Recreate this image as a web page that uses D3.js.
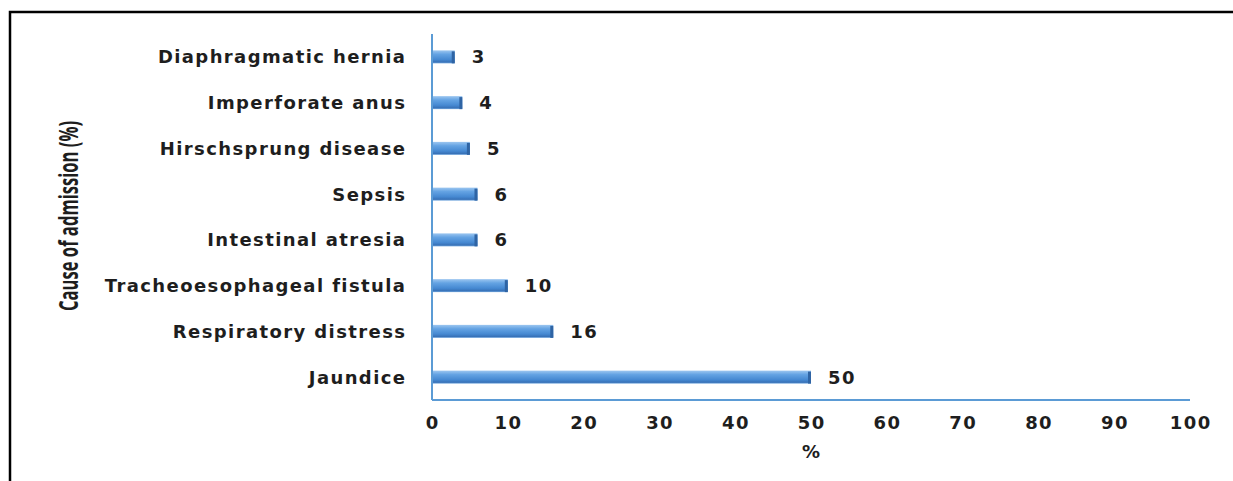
<!DOCTYPE html>
<html>
<head>
<meta charset="utf-8">
<script src="https://cdn.jsdelivr.net/npm/d3@7"></script>
<style>
  body { margin: 0; background: #fff; }
  text { font-family: 'DejaVu Sans', Verdana, sans-serif; }
</style>
</head>
<body>
<div id="chart"></div>
<script>
// chart values
const categories = [
  'Diaphragmatic hernia',
  'Imperforate anus',
  'Hirschsprung disease',
  'Sepsis',
  'Intestinal atresia',
  'Tracheoesophageal fistula',
  'Respiratory distress',
  'Jaundice',
];
const values = [3, 4, 5, 6, 6, 10, 16, 50];
const xTicks = [0, 10, 20, 30, 40, 50, 60, 70, 80, 90, 100];
const xTitle = '%';
const yTitle = 'Cause of admission (%)';

const W = 1233;
const H = 481;
const margin = { top: 34, right: 43, bottom: 81, left: 432 };
const width = W - margin.left - margin.right;
const height = H - margin.top - margin.bottom;
const axisColor = '#5b9bd5';
const textColor = '#1e1e1e';
const fontSize = '18px';
const spacing = 1.4;

const svg = d3.select('#chart')
  .append('svg')
  .attr('width', W)
  .attr('height', H);

// outer frame (only top and left edges visible)
svg.append('rect')
  .attr('x', 10)
  .attr('y', 12)
  .attr('width', W + 20)
  .attr('height', H + 20)
  .attr('fill', 'none')
  .attr('stroke', '#000')
  .attr('stroke-width', 2.5);

const defs = svg.append('defs');
const grad = defs.append('linearGradient')
  .attr('id', 'barGrad')
  .attr('x1', 0).attr('y1', 0)
  .attr('x2', 0).attr('y2', 1);
grad.append('stop').attr('offset', '0%').attr('stop-color', '#9cc6f0');
grad.append('stop').attr('offset', '30%').attr('stop-color', '#64a3e3');
grad.append('stop').attr('offset', '70%').attr('stop-color', '#4689d2');
grad.append('stop').attr('offset', '90%').attr('stop-color', '#3872b8');
grad.append('stop').attr('offset', '100%').attr('stop-color', '#78abe0');

const g = svg.append('g')
  .attr('transform', `translate(${margin.left},${margin.top})`);

const x = d3.scaleLinear()
  .domain([0, 100])
  .range([0, width]);

const y = d3.scaleBand()
  .domain(categories)
  .range([0, height])
  .paddingInner(0.716)
  .paddingOuter(0.358);

// bars
const bars = g.selectAll('.bar')
  .data(categories)
  .enter()
  .append('g')
  .attr('class', 'bar');

bars.append('rect')
  .attr('x', 0)
  .attr('y', (d) => y(d))
  .attr('width', (d, i) => x(values[i]))
  .attr('height', y.bandwidth())
  .attr('fill', 'url(#barGrad)');

// darker end cap to give the bar a 3d look
bars.append('rect')
  .attr('x', (d, i) => x(values[i]) - 3)
  .attr('y', (d) => y(d) + 1)
  .attr('width', 3)
  .attr('height', y.bandwidth() - 1)
  .attr('fill', '#2f64a4');

// value labels
bars.append('text')
  .attr('x', (d, i) => x(values[i]) + 17)
  .attr('y', (d) => y(d) + y.bandwidth() / 2)
  .attr('dy', '0.36em')
  .style('font-size', fontSize)
  .style('font-weight', 'bold')
  .style('letter-spacing', `${spacing}px`)
  .attr('fill', textColor)
  .text((d, i) => values[i]);

// axes lines
g.append('line')
  .attr('x1', 0).attr('x2', 0)
  .attr('y1', 0).attr('y2', height)
  .attr('stroke', axisColor)
  .attr('stroke-width', 2);

g.append('line')
  .attr('x1', 0).attr('x2', width)
  .attr('y1', height).attr('y2', height)
  .attr('stroke', axisColor)
  .attr('stroke-width', 2);

// category labels
g.selectAll('.cat')
  .data(categories)
  .enter()
  .append('text')
  .attr('class', 'cat')
  .attr('x', -27 + spacing)
  .attr('y', (d) => y(d) + y.bandwidth() / 2)
  .attr('dy', '0.36em')
  .attr('text-anchor', 'end')
  .style('font-size', fontSize)
  .style('font-weight', 'bold')
  .style('letter-spacing', `${spacing}px`)
  .attr('fill', textColor)
  .text((d) => d);

// x tick labels
g.selectAll('.tick-label')
  .data(xTicks)
  .enter()
  .append('text')
  .attr('class', 'tick-label')
  .attr('x', (d) => x(d) + spacing / 2)
  .attr('y', height + 23)
  .attr('dy', '0.36em')
  .attr('text-anchor', 'middle')
  .style('font-size', fontSize)
  .style('font-weight', 'bold')
  .style('letter-spacing', `${spacing}px`)
  .attr('fill', textColor)
  .text((d) => d);

// x title
g.append('text')
  .attr('x', width / 2)
  .attr('y', height + 52)
  .attr('dy', '0.36em')
  .attr('text-anchor', 'middle')
  .style('font-size', fontSize)
  .style('font-weight', 'bold')
  .attr('fill', textColor)
  .text(xTitle);

// y title, tall and condensed
svg.append('text')
  .attr('transform', 'translate(78,216) rotate(-90)')
  .attr('x', 0)
  .attr('y', 0)
  .attr('text-anchor', 'middle')
  .attr('textLength', 190)
  .attr('lengthAdjust', 'spacingAndGlyphs')
  .style('font-family', "'Open Sans', sans-serif")
  .style('font-size', '27px')
  .style('font-weight', 700)
  .attr('fill', textColor)
  .text(yTitle);
</script>
</body>
</html>
